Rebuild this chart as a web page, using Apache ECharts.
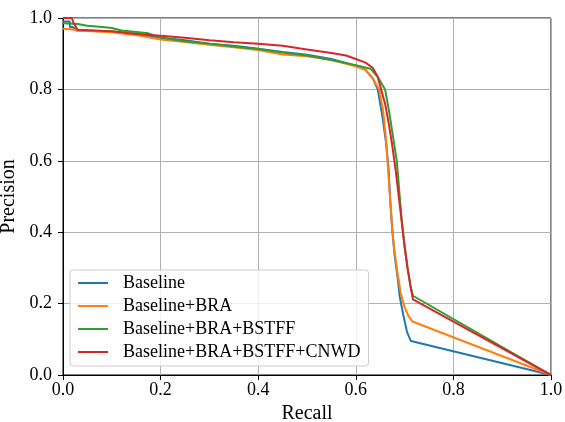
<!DOCTYPE html>
<html>
<head>
<meta charset="utf-8">
<script src="https://cdn.jsdelivr.net/npm/echarts@6/dist/echarts.min.js"></script>
<style>html,body{margin:0;padding:0;background:#fff}#c{width:565px;height:422px}</style>
</head>
<body>
<div id="c"></div>
<script>
var seriesNames = ['Baseline', 'Baseline+BRA', 'Baseline+BRA+BSTFF', 'Baseline+BRA+BSTFF+CNWD'];
var seriesColors = ['#1f77b4', '#ff7f0e', '#2ca02c', '#d62728'];
var axisTicks = [0, 0.2, 0.4, 0.6, 0.8, 1.0];

var baselineRecall = [0, 0.014, 0.014, 0.02, 0.028, 0.1, 0.15, 0.2, 0.25, 0.3, 0.35, 0.4, 0.45, 0.5, 0.55, 0.6, 0.62, 0.635, 0.645, 0.655, 0.662, 0.667, 0.671, 0.675, 0.68, 0.686, 0.69, 0.697, 0.705, 0.713, 1.0];
var baselinePrecision = [0.99, 0.99, 0.975, 0.975, 0.965, 0.962, 0.955, 0.945, 0.938, 0.928, 0.922, 0.914, 0.905, 0.897, 0.885, 0.866, 0.855, 0.83, 0.80, 0.72, 0.65, 0.58, 0.48, 0.40, 0.33, 0.27, 0.22, 0.17, 0.12, 0.095, 0.0];

var braRecall = [0, 0.02, 0.03, 0.1, 0.15, 0.2, 0.25, 0.3, 0.35, 0.4, 0.45, 0.5, 0.55, 0.6, 0.62, 0.635, 0.648, 0.656, 0.662, 0.666, 0.67, 0.674, 0.679, 0.685, 0.692, 0.7, 0.708, 0.716, 1.0];
var braPrecision = [0.97, 0.968, 0.965, 0.96, 0.952, 0.94, 0.933, 0.925, 0.918, 0.91, 0.898, 0.893, 0.882, 0.865, 0.855, 0.83, 0.80, 0.74, 0.66, 0.58, 0.50, 0.42, 0.35, 0.29, 0.23, 0.19, 0.165, 0.15, 0.0];

var bstffRecall = [0, 0.03, 0.05, 0.08, 0.1, 0.12, 0.175, 0.2, 0.25, 0.3, 0.35, 0.4, 0.45, 0.5, 0.55, 0.6, 0.63, 0.645, 0.66, 0.668, 0.676, 0.684, 0.69, 0.695, 0.7, 0.706, 0.712, 0.717, 1.0];
var bstffPrecision = [0.985, 0.983, 0.978, 0.975, 0.972, 0.965, 0.957, 0.945, 0.935, 0.928, 0.92, 0.913, 0.903, 0.895, 0.882, 0.868, 0.858, 0.835, 0.80, 0.74, 0.67, 0.60, 0.50, 0.42, 0.36, 0.30, 0.25, 0.222, 0.0];

var cnwdRecall = [0, 0.018, 0.022, 0.03, 0.1, 0.15, 0.2, 0.25, 0.3, 0.35, 0.4, 0.45, 0.5, 0.55, 0.58, 0.6, 0.62, 0.635, 0.645, 0.652, 0.66, 0.668, 0.675, 0.682, 0.688, 0.694, 0.7, 0.706, 0.712, 0.717, 1.0];
var cnwdPrecision = [1.0, 1.0, 0.985, 0.967, 0.963, 0.955, 0.95, 0.945, 0.938, 0.932, 0.928, 0.922, 0.912, 0.902, 0.895, 0.885, 0.875, 0.86, 0.835, 0.80, 0.76, 0.70, 0.64, 0.57, 0.50, 0.43, 0.36, 0.30, 0.25, 0.212, 0.0];

var recallSets = [baselineRecall, braRecall, bstffRecall, cnwdRecall];
var precisionSets = [baselinePrecision, braPrecision, bstffPrecision, cnwdPrecision];

function pairs(xs, ys) { return xs.map(function (x, i) { return [x, ys[i]]; }); }

var font = '"Liberation Serif", "Times New Roman", serif';
var chart = echarts.init(document.getElementById('c'), null, { renderer: 'canvas' });

var axisCommon = {
  type: 'value', min: axisTicks[0], max: axisTicks[axisTicks.length - 1], interval: 0.2,
  nameLocation: 'middle',
  nameTextStyle: { fontFamily: font, fontSize: 20, color: '#000' },
  axisLine: { show: true, lineStyle: { color: '#000', width: 1 } },
  axisTick: { show: true, inside: false, length: 5, lineStyle: { color: '#000' } },
  axisLabel: { fontFamily: font, fontSize: 18, color: '#000', formatter: function (v) { return v.toFixed(1); } },
  splitLine: { show: true, lineStyle: { color: '#b0b0b0', width: 1 } }
};

chart.setOption({
  animation: false,
  backgroundColor: '#fff',
  grid: { left: 63, right: 14, top: 18, bottom: 47, show: true, borderColor: '#000', borderWidth: 1, backgroundColor: 'transparent', containLabel: false, outerBoundsMode: 'none' },
  xAxis: Object.assign({}, axisCommon, { name: 'Recall', nameGap: 25, axisLabel: Object.assign({}, axisCommon.axisLabel, { margin: 6 }) }),
  yAxis: Object.assign({}, axisCommon, { name: 'Precision', nameGap: 33, axisLabel: Object.assign({}, axisCommon.axisLabel, { margin: 11 }) }),
  legend: {
    orient: 'vertical', left: 70, top: 270,
    padding: [4, 8, 5, 8], itemGap: 5, itemWidth: 30, itemHeight: 2, icon: 'rect',
    backgroundColor: 'rgba(255,255,255,0.8)', borderColor: '#cccccc', borderWidth: 1, borderRadius: 3,
    textStyle: { fontFamily: font, fontSize: 18, color: '#000', lineHeight: 18, padding: [0, 0, 0, 10] },
    data: seriesNames
  },
  series: seriesNames.map(function (n, i) {
    return {
      name: n, type: 'line', showSymbol: false, symbol: 'none',
      color: seriesColors[i],
      lineStyle: { color: seriesColors[i], width: 2 },
      data: pairs(recallSets[i], precisionSets[i])
    };
  })
});
</script>
</body>
</html>
